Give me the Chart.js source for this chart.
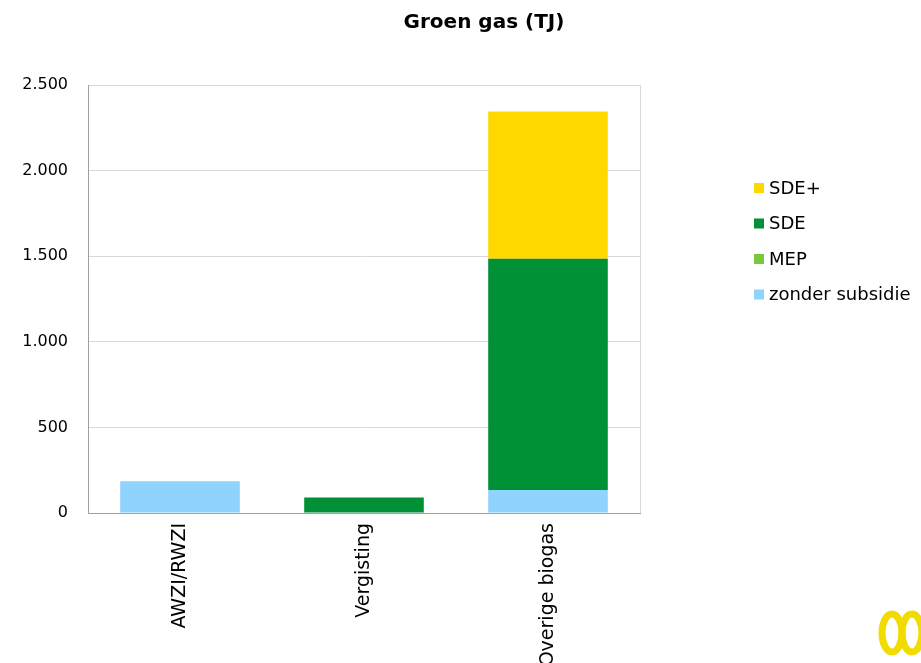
<!DOCTYPE html>
<html>
<head>
<meta charset="utf-8">
<script src="https://cdn.jsdelivr.net/npm/chart.js@4"></script>
<style>
  body { margin: 0; background: #fff; }
  #wrap { width: 921px; height: 663px; }
</style>
</head>
<body>
<div id="wrap"><canvas id="grafico" width="921" height="663"></canvas></div>
<script>
// data (TJ)
const categorias = ['AWZI/RWZI', 'Vergisting', 'Overige biogas']
const zonderSubsidie = [185, 0, 135]
const mep = [0, 0, 0]
const sde = [0, 90, 1350]
const sdePlus = [0, 0, 860]
const yTicks = [0, 500, 1000, 1500, 2000, 2500]
const titulo = 'Groen gas (TJ)'

const fmt = v => String(v).replace(/\B(?=(\d{3})+(?!\d))/g, '.')

// title, right border, legend and logo drawn by hand
const extras = {
  id: 'extras',
  afterDraw(chart) {
    const ctx = chart.ctx
    const area = chart.chartArea
    ctx.save()
    // right border of plot
    ctx.strokeStyle = '#d9d9d9'
    ctx.lineWidth = 1
    ctx.beginPath()
    ctx.moveTo(Math.round(area.right) + 0.5, area.top)
    ctx.lineTo(Math.round(area.right) + 0.5, area.bottom)
    ctx.stroke()

    // title
    ctx.fillStyle = '#000'
    ctx.font = 'bold 20px "DejaVu Sans"'
    ctx.textAlign = 'center'
    ctx.textBaseline = 'middle'
    ctx.fillText(titulo, 484, 23)

    // legend (reverse of stack order)
    ctx.font = '18px "DejaVu Sans"'
    ctx.textAlign = 'left'
    const sets = chart.data.datasets.slice().reverse()
    sets.forEach((ds, i) => {
      const y = 188 + i * 35.5
      ctx.fillStyle = ds.backgroundColor
      ctx.fillRect(754, y - 5, 10, 10)
      ctx.fillStyle = '#000'
      ctx.fillText(ds.label, 769, y + 1)
    })

    // logo rings, cut at the corner
    ctx.lineWidth = 7
    ctx.strokeStyle = '#f2dc00'
    ctx.beginPath()
    ctx.ellipse(892, 633, 10, 19, 0, 0, Math.PI * 2)
    ctx.stroke()
    ctx.beginPath()
    ctx.ellipse(912, 633, 10, 19, 0, 0, Math.PI * 2)
    ctx.stroke()
    ctx.restore()
  }
}

new Chart(document.querySelector('#grafico'), {
  type: 'bar',
  data: {
    labels: categorias,
    datasets: [
      { label: 'zonder subsidie', data: zonderSubsidie, backgroundColor: '#8fd3fe' },
      { label: 'MEP', data: mep, backgroundColor: '#78c83c' },
      { label: 'SDE', data: sde, backgroundColor: '#009035' },
      { label: 'SDE+', data: sdePlus, backgroundColor: '#ffd800' }
    ]
  },
  options: {
    responsive: false,
    animation: false,
    layout: { padding: { top: 85, right: 281, left: 0, bottom: 0 } },
    datasets: { bar: { categoryPercentage: 1, barPercentage: 0.65, borderWidth: 0 } },
    plugins: {
      legend: { display: false },
      title: { display: false },
      tooltip: { enabled: false }
    },
    scales: {
      x: {
        stacked: true,
        afterFit: s => { s.height = 150 },
        grid: { display: false, drawTicks: false },
        border: { display: true, color: '#a0a0a0', width: 1 },
        ticks: {
          autoSkip: false,
          minRotation: 90,
          maxRotation: 90,
          padding: 10,
          color: '#000',
          font: { family: 'DejaVu Sans', size: 19 }
        }
      },
      y: {
        stacked: true,
        min: 0,
        max: 2500,
        afterFit: s => { s.width = 88 },
        afterBuildTicks: s => { s.ticks = yTicks.map(v => ({ value: v })) },
        grid: { color: '#d9d9d9', drawTicks: false },
        border: { display: true, color: '#a0a0a0', width: 1 },
        ticks: {
          padding: 20,
          color: '#000',
          font: { family: 'DejaVu Sans', size: 16 },
          callback: v => fmt(v)
        }
      }
    }
  },
  plugins: [extras]
})
</script>
</body>
</html>
